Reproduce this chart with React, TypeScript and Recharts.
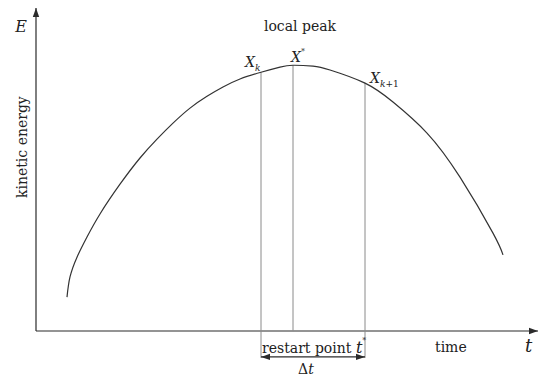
import React from 'react';
import { LineChart, Line, XAxis, YAxis, ReferenceLine, ReferenceDot } from 'recharts';

// curve samples (time, kinetic energy)
const timeValues = [6.2, 6.8, 8.2, 10.2, 12.8, 16.8, 20.8, 24.2, 27.4, 30.8, 34.2, 37.4, 40.8, 45, 48.8, 51.4, 55.4, 58.8, 65.8, 71.4, 78.2, 84.8, 91.4, 93.4];
const energyValues = [10.6, 16.9, 23.1, 29.4, 36.6, 45.9, 54.1, 60, 65, 69.7, 73.4, 76.3, 78.8, 80.9, 82.5, 83.1, 82.8, 81.6, 77.5, 71.6, 61.9, 48.1, 30.6, 23.8];

// marked instants
const tK = 45;
const tStar = 51.4;
const tK1 = 65.8;

const data = timeValues.map((t, i) => ({ t, e: energyValues[i] }));
const energyAt = (t: number) => energyValues[timeValues.indexOf(t)];

const FONT = '"DejaVu Serif", serif';
const AXIS = '#2b2b2b';
const GUIDE = '#8a8a8a';

function ArrowLine(props: any) {
  const { x1, y1, x2, y2, stroke, both } = props;
  const a = Math.atan2(y2 - y1, x2 - x1);
  const len = 9;
  const w = 3.2;
  const head = (x: number, y: number, ang: number) => {
    const bx = x - len * Math.cos(ang);
    const by = y - len * Math.sin(ang);
    const px = -Math.sin(ang) * w;
    const py = Math.cos(ang) * w;
    return `${x},${y} ${bx + px},${by + py} ${bx - px},${by - py}`;
  };
  return (
    <g>
      <line x1={x1} y1={y1} x2={x2} y2={y2} stroke={stroke} strokeWidth={1.2} />
      <polygon points={head(x2, y2, a)} fill={stroke} />
      {both && <polygon points={head(x1, y1, a + Math.PI)} fill={stroke} />}
    </g>
  );
}

const txt = (content: React.ReactNode, opts: any = {}) => (props: any) => (
  <text
    x={props.cx}
    y={props.cy}
    style={{ fontFamily: FONT }}
    fontSize={opts.size || 14}
    fontStyle={opts.italic ? 'italic' : 'normal'}
    textAnchor={opts.anchor || 'start'}
    fill="#222"
    dominantBaseline={opts.baseline || 'alphabetic'}
    transform={opts.rotate ? `rotate(-90 ${props.cx} ${props.cy})` : undefined}
  >
    {content}
  </text>
);

export default function App() {
  return (
    <div style={{ position: 'absolute', left: 0, top: 0, background: '#fff' }}>
      <LineChart width={539} height={379} data={data} margin={{ top: 8, right: 1, bottom: 16, left: 36 }}>
        <XAxis dataKey="t" type="number" domain={[0, 100.4]} hide />
        <YAxis type="number" domain={[-10, 101]} hide />

        {/* axes with arrows */}
        <ReferenceLine segment={[{ x: 0, y: 0 }, { x: 0, y: 101 }]} stroke={AXIS} ifOverflow="visible" shape={(p: any) => <ArrowLine {...p} stroke={AXIS} />} />
        <ReferenceLine segment={[{ x: 0, y: 0 }, { x: 100.4, y: 0 }]} stroke={AXIS} ifOverflow="visible" shape={(p: any) => <ArrowLine {...p} stroke={AXIS} />} />

        {/* guide lines */}
        <ReferenceLine segment={[{ x: tK, y: energyAt(tK) }, { x: tK, y: -8.4 }]} stroke={GUIDE} strokeWidth={1} ifOverflow="visible" />
        <ReferenceLine segment={[{ x: tStar, y: energyAt(tStar) }, { x: tStar, y: 0 }]} stroke={GUIDE} strokeWidth={1} ifOverflow="visible" />
        <ReferenceLine segment={[{ x: tK1, y: energyAt(tK1) }, { x: tK1, y: -8.4 }]} stroke={GUIDE} strokeWidth={1} ifOverflow="visible" />
        <ReferenceLine segment={[{ x: tK, y: -8.1 }, { x: tK1, y: -8.1 }]} stroke={AXIS} ifOverflow="visible" shape={(p: any) => <ArrowLine {...p} stroke={AXIS} both />} />

        <Line type="natural" dataKey="e" stroke="#333" strokeWidth={1.2} dot={false} isAnimationActive={false} />

        {/* annotations */}
        <ReferenceDot x={-3} y={93.4} r={1} ifOverflow="visible" shape={txt('E', { italic: true, size: 16, anchor: 'middle' })} />
        <ReferenceDot x={-2.8} y={57.5} r={1} ifOverflow="visible" shape={txt('kinetic energy', { anchor: 'middle', baseline: 'central', rotate: true })} />
        <ReferenceDot x={52.8} y={93.8} r={1} ifOverflow="visible" shape={txt('local peak', { anchor: 'middle' })} />
        <ReferenceDot x={41.8} y={82.5} r={1} ifOverflow="visible" shape={txt(<><tspan fontStyle="italic">X</tspan><tspan fontSize={9} fontStyle="italic" dy={4}>k</tspan></>)} />
        <ReferenceDot x={51} y={84.1} r={1} ifOverflow="visible" shape={txt(<><tspan fontStyle="italic">X</tspan><tspan fontSize={8} dy={-8}>*</tspan></>)} />
        <ReferenceDot x={66.8} y={77.5} r={1} ifOverflow="visible" shape={txt(<><tspan fontStyle="italic">X</tspan><tspan fontSize={9} dy={4}><tspan fontStyle="italic">k</tspan>+1</tspan></>)} />
        <ReferenceDot x={45.2} y={-7} r={1} ifOverflow="visible" shape={txt(<>restart point <tspan fontStyle="italic" fontSize={16}>t</tspan><tspan fontSize={8} dy={-10}>*</tspan></>)} />
        <ReferenceDot x={79.8} y={-6.6} r={1} ifOverflow="visible" shape={txt('time')} />
        <ReferenceDot x={97.8} y={-6.6} r={1} ifOverflow="visible" shape={txt('t', { italic: true, size: 18 })} />
        <ReferenceDot x={52.4} y={-13.4} r={1} ifOverflow="visible" shape={txt(<>Δ<tspan fontStyle="italic">t</tspan></>)} />
      </LineChart>
    </div>
  );
}
